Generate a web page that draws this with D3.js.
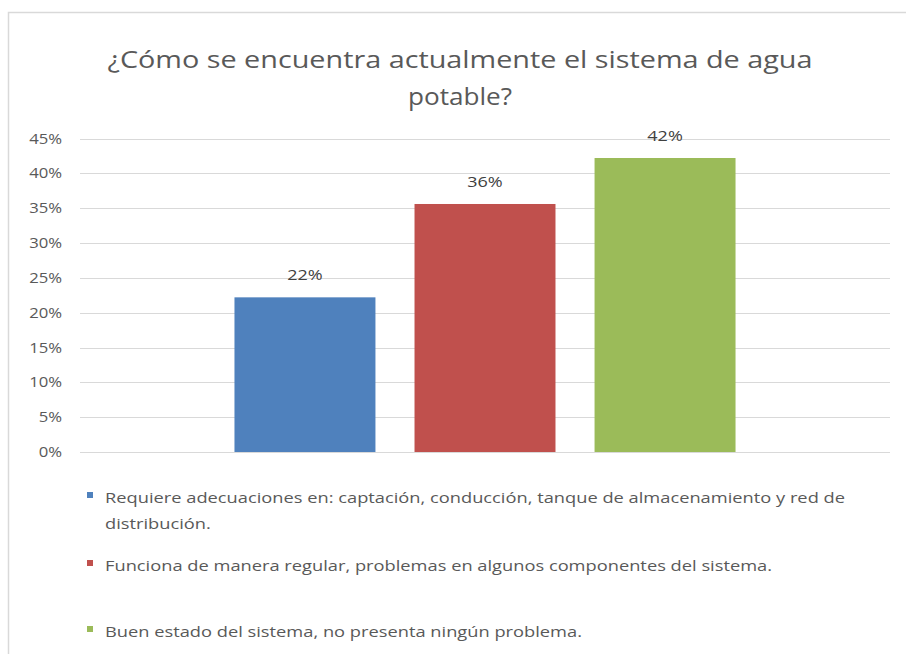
<!DOCTYPE html>
<html><head><meta charset="utf-8">
<script src="https://cdn.jsdelivr.net/npm/d3@7/dist/d3.min.js"></script>
<style>body{margin:0;background:#fff}svg{display:block}</style>
</head><body>
<svg id="c" width="906" height="654"></svg>
<script>
const categories = [
  "Requiere adecuaciones en: captación, conducción, tanque de almacenamiento y red de distribución.",
  "Funciona de manera regular, problemas en algunos componentes del sistema.",
  "Buen estado del sistema, no presenta ningún problema."
];
const legendLines = [
  ["Requiere adecuaciones en: captación, conducción, tanque de almacenamiento y red de", "distribución."],
  ["Funciona de manera regular, problemas en algunos componentes del sistema."],
  ["Buen estado del sistema, no presenta ningún problema."]
];
const values = [0.222, 0.356, 0.422];
const dataLabels = ["22%", "36%", "42%"];
const colors = ["#4f81bd", "#c0504d", "#9bbb59"];
const yTicks = [0, 0.05, 0.10, 0.15, 0.20, 0.25, 0.30, 0.35, 0.40, 0.45];
const titleLines = ["¿Cómo se encuentra actualmente el sistema de agua", "potable?"];

const svg = d3.select("#c");
const font = "'Open Sans', 'Noto Sans', sans-serif";
const grey = "#595959";

// horizontal stretch to mimic the reference's wide glyphs
function stretch(sel, k) {
  sel.each(function() {
    const w = this.getComputedTextLength();
    d3.select(this).attr("textLength", w * k).attr("lengthAdjust", "spacingAndGlyphs");
  });
}

// chart border
svg.append("path").attr("d", "M8.5,660 L8.5,12.5 L906,12.5")
  .attr("fill", "none").attr("stroke", "#d9d9d9").attr("stroke-width", 1.5);

// title
svg.append("g").selectAll("text").data(titleLines).join("text")
  .attr("x", 460).attr("y", (d, i) => 68 + i * 37)
  .attr("text-anchor", "middle").attr("font-family", font)
  .attr("font-size", 23).attr("fill", grey).attr("textLength", (d,i)=> i===0?705:104)
  .attr("lengthAdjust", "spacingAndGlyphs")
  .text(d => d);

const x = d3.scaleBand().domain(categories).range([80, 890])
  .paddingInner(0.217).paddingOuter(0.858);
const y = d3.scaleLinear().domain([0, 0.45]).range([452, 138.5]);

// gridlines
svg.append("g").selectAll("line").data(yTicks).join("line")
  .attr("x1", 80).attr("x2", 890)
  .attr("y1", d => Math.round(y(d)) + 0.5).attr("y2", d => Math.round(y(d)) + 0.5)
  .attr("stroke", "#d9d9d9").attr("stroke-width", 1);

// y axis
const yAxis = d3.axisLeft(y).tickValues(yTicks).tickFormat(d3.format(".0%")).tickSize(0).tickPadding(0);
const ga = svg.append("g").attr("transform", "translate(62,0)").call(yAxis);
ga.select(".domain").remove();
ga.selectAll("text").attr("font-family", font).attr("font-size", 14.5).attr("fill", grey)
  .call(stretch, 1.15);

// bars
svg.append("g").selectAll("rect").data(values).join("rect")
  .attr("x", (d, i) => x(categories[i])).attr("width", x.bandwidth())
  .attr("y", d => y(d)).attr("height", d => y(0) - y(d))
  .attr("fill", (d, i) => colors[i]);

// data labels
svg.append("g").selectAll("text").data(values).join("text")
  .attr("x", (d, i) => x(categories[i]) + x.bandwidth() / 2)
  .attr("y", d => y(d) - 17)
  .attr("text-anchor", "middle").attr("font-family", font).attr("font-size", 15)
  .attr("fill", "#404040").text((d, i) => dataLabels[i])
  .call(stretch, 1.2);

// legend
const legendY = [492, 560, 626];
const lg = svg.append("g");
legendLines.forEach((lines, i) => {
  lg.append("rect").attr("x", 87).attr("y", legendY[i]).attr("width", 6).attr("height", 6).attr("fill", colors[i]);
  lines.forEach((t, j) => {
    lg.append("text").attr("x", 105).attr("y", legendY[i] + 11 + j * 26)
      .attr("font-family", font).attr("font-size", 14.5).attr("fill", grey).text(t)
      .call(stretch, 1.26);
  });
});
</script>
</body></html>
